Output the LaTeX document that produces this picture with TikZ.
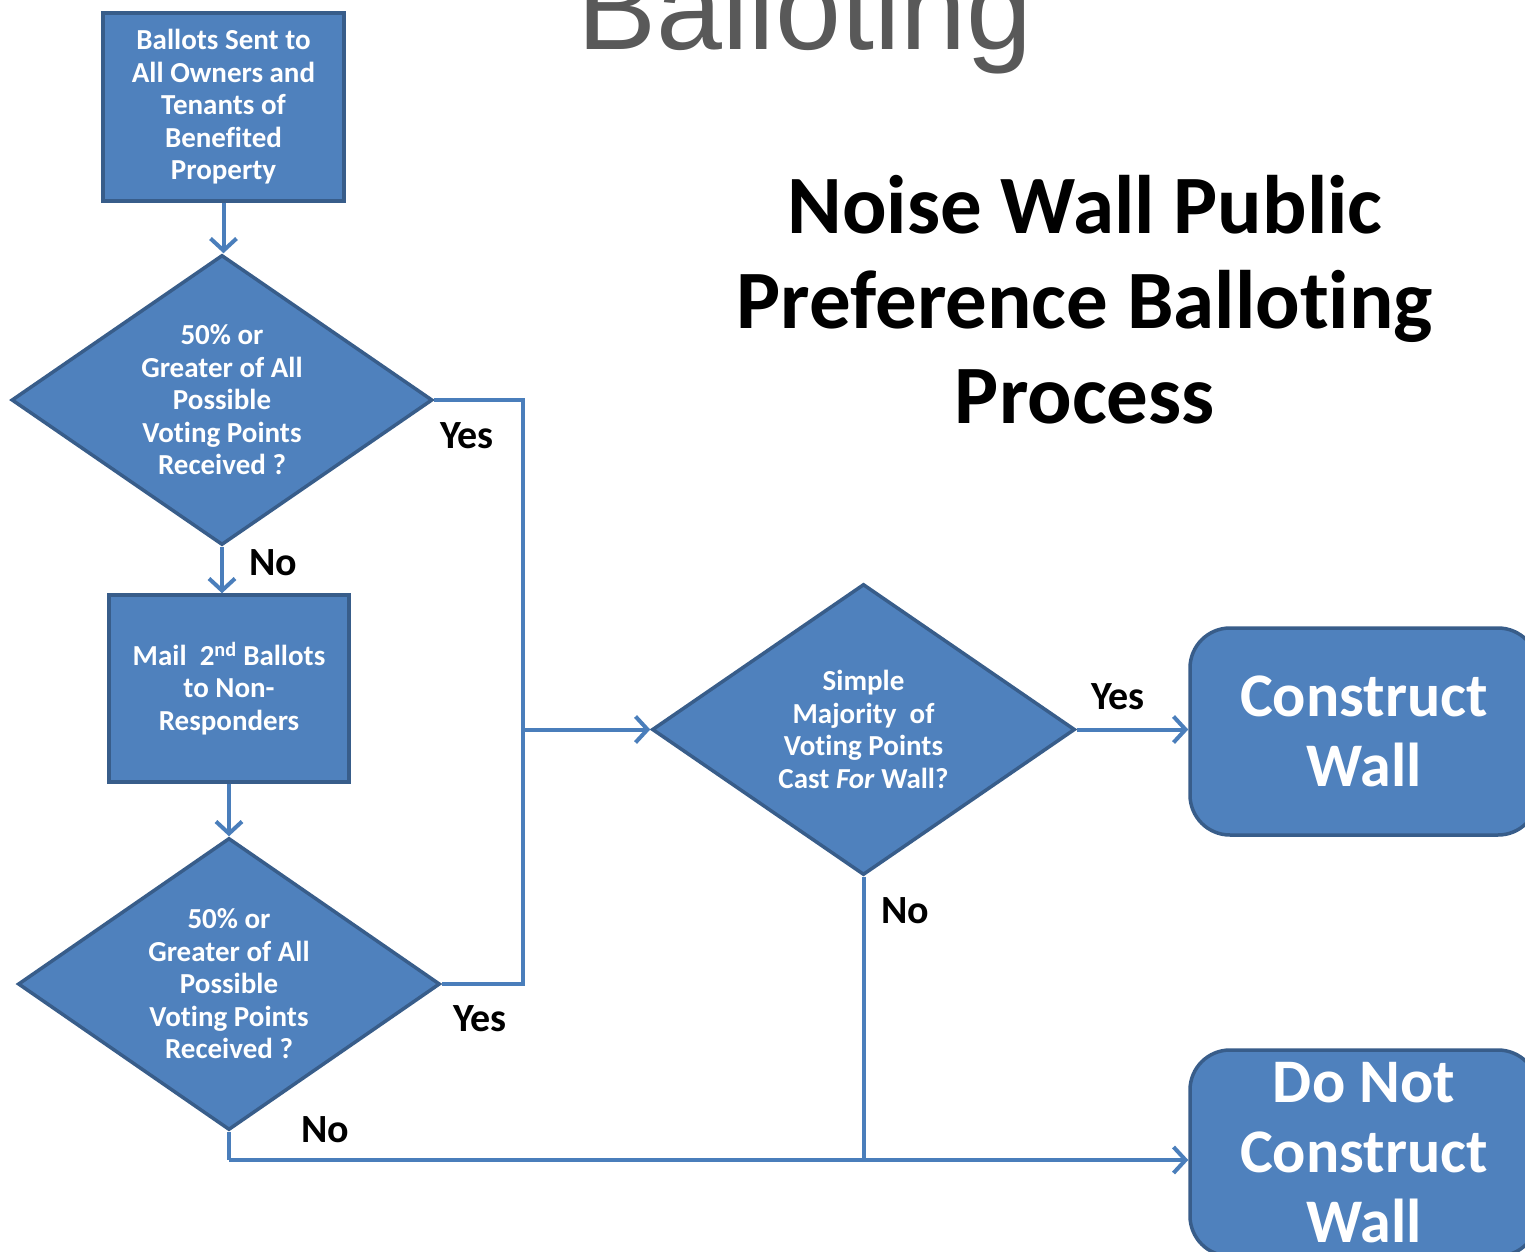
\documentclass[tikz,border=0pt]{standalone}
\usepackage{fontspec}
\setmainfont{Carlito}[Ligatures=NoCommon]
\newfontfamily\arialf{Liberation Sans}
\usetikzlibrary{shapes.geometric,arrows.meta}
\definecolor{boxfill}{HTML}{4F81BD}
\definecolor{boxedge}{HTML}{385D8A}
\definecolor{linec}{HTML}{4A7EBB}
\definecolor{graytitle}{HTML}{595959}
\tikzset{
  procbox/.style={rectangle, draw=boxedge, fill=boxfill, line width=3.5pt, inner sep=0pt, text=white, align=center,
    font=\bfseries\fontsize{29}{32.5}\selectfont},
  decbox/.style={diamond, aspect=1.45, draw=boxedge, fill=boxfill, line width=3.5pt, inner sep=0pt, text=white, align=center,
    font=\bfseries\fontsize{29}{32.5}\selectfont},
  endbox/.style={rectangle, rounded corners=40pt, draw=boxedge, fill=boxfill, line width=3.5pt, inner sep=0pt, text=white, align=center,
    font=\bfseries\fontsize{62}{70}\selectfont},
  lineconn/.style={draw=linec, line width=4pt},
  conn/.style={lineconn, -{Straight Barb[length=12pt, width=26pt, line width=4pt]}},
  edgelabel/.style={font=\bfseries\fontsize{40}{44}\selectfont, inner sep=0pt},
}
\begin{document}
\begin{tikzpicture}[x=1pt, y=-1pt]
\clip (0,0) rectangle (1525,1252);
\fill[white] (0,0) rectangle (1525,1252);

\node[font=\arialf\fontsize{118.5}{130}\selectfont, text=graytitle, anchor=base, inner sep=0pt] (oldtitle) at (805,50) {Balloting};
\node[font=\bfseries\fontsize{83}{95}\selectfont, align=center, inner sep=0pt] (title) at (1085,300) {Noise Wall Public\\Preference Balloting\\Process};

\node[procbox, minimum width=241pt, minimum height=188pt] (b1) at (223.5,107) {Ballots Sent to\\All Owners and\\Tenants of\\Benefited\\Property};
\node[decbox, minimum width=421pt, minimum height=290pt] (d1) at (222,400) {50\% or\\Greater of All\\Possible\\Voting Points\\Received ?};
\node[procbox, minimum width=240pt, minimum height=187pt] (b2) at (229,688.5) {Mail\ \ 2\textsuperscript{nd} Ballots\\to Non-\\Responders};
\node[decbox, minimum width=422pt, minimum height=292pt] (d2) at (229,984) {50\% or\\Greater of All\\Possible\\Voting Points\\Received ?};
\node[decbox, minimum width=423pt, minimum height=291pt] (d3) at (863.5,729.5) {Simple\\Majority\ \ of\\Voting Points\\Cast \textit{For} Wall?};
\node[endbox, minimum width=348pt, minimum height=207pt] (cw) at (1364,731.5) {Construct\\Wall};
\node[endbox, minimum width=348pt, minimum height=206pt] (dn) at (1364,1153) {Do Not\\Construct\\Wall};

\coordinate (jt) at (523,400);
\coordinate (nl) at (229,1160);

\draw[conn] (b1.south) -- (b1.south |- d1.north);
\draw[conn] (d1.south) -- (d1.south |- b2.north);
\draw[conn] (b2.south) -- (b2.south |- d2.north);
\draw[lineconn] (d1.east) -- (jt) |- (d2.east);
\draw[conn] (jt |- d3.west) -- (d3.west);
\draw[conn] (d3.east) -- (d3.east -| cw.west);
\draw[lineconn] (d2.south) -- (nl);
\draw[conn] (nl) -- (nl -| dn.west);
\draw[lineconn] (d3.south) -- (d3.south |- nl);

\node[edgelabel] (l1) at (467,436) {Yes};
\node[edgelabel] (l2) at (273,563) {No};
\node[edgelabel] (l3) at (480,1019) {Yes};
\node[edgelabel] (l4) at (325,1130) {No};
\node[edgelabel] (l5) at (1118,697) {Yes};
\node[edgelabel] (l6) at (905,911) {No};
\end{tikzpicture}
\end{document}
